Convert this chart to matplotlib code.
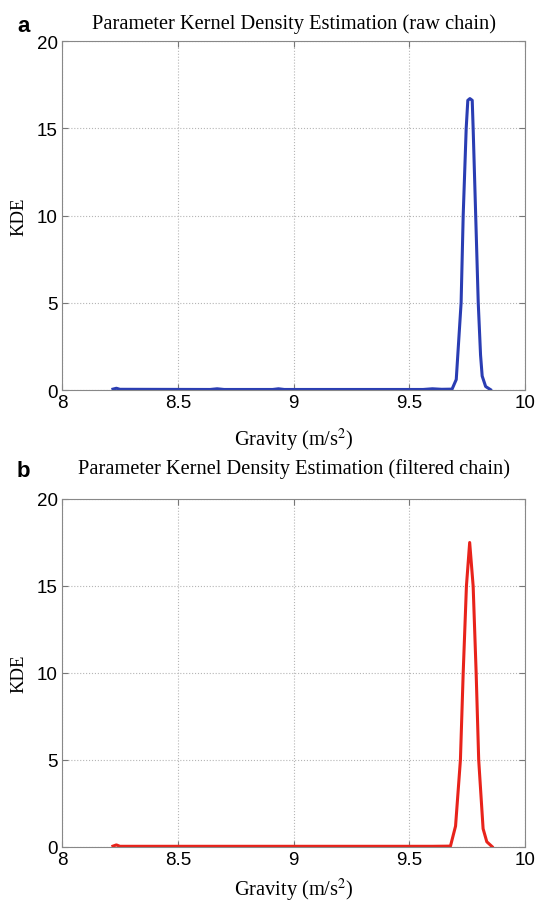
import numpy as np
import matplotlib
matplotlib.use("Agg")
import matplotlib.pyplot as plt

plt.rcParams["mathtext.fontset"] = "stix"

# KDE of the gravity estimate
raw_x = [8.22, 8.235, 8.25, 8.64, 8.67, 8.70, 8.91, 8.935, 8.96, 9.56, 9.60, 9.64,
         9.685, 9.703, 9.724, 9.733, 9.746, 9.753, 9.762, 9.772, 9.776, 9.787,
         9.798, 9.808, 9.815, 9.83, 9.851]
raw_y = [0.05, 0.10, 0.04, 0.03, 0.07, 0.03, 0.03, 0.07, 0.03, 0.03, 0.07, 0.04,
         0.05, 0.6, 5.0, 10.0, 15.0, 16.6, 16.7, 16.6, 15.0, 10.0,
         5.0, 2.0, 0.8, 0.2, 0.02]

filt_x = [8.22, 8.235, 8.25, 9.60, 9.678, 9.70, 9.721, 9.733, 9.747, 9.761,
          9.776, 9.789, 9.800, 9.819, 9.835, 9.858]
filt_y = [0.05, 0.12, 0.04, 0.04, 0.05, 1.2, 5.0, 10.0, 15.0, 17.5,
          15.0, 10.0, 5.0, 1.05, 0.3, 0.02]

letters = ["a", "b"]
titles = ["Parameter Kernel Density Estimation (raw chain)",
          "Parameter Kernel Density Estimation (filtered chain)"]
series = [(raw_x, raw_y), (filt_x, filt_y)]
colors = ["#2a3db3", "#e8231b"]

xticks = [8, 8.5, 9, 9.5, 10]
xticklabels = ["8", "8.5", "9", "9.5", "10"]
yticks = [0, 5, 10, 15, 20]

W, H = 535.0, 903.0
fig = plt.figure(figsize=(W / 100, H / 100), dpi=100)

# pixel layout: axes box (left, top, right, bottom), title centre y, xlabel centre y
boxes = [(62, 42, 525, 391), (62, 500, 525, 848)]
title_y = [24, 469]
xlabel_y = [440, 890]

for i in range(2):
    l, t, r, b = boxes[i]
    ax = fig.add_axes([l / W, 1 - b / H, (r - l) / W, (b - t) / H])
    xs, ys = series[i]
    ax.plot(xs, ys, color=colors[i], lw=2.2, solid_joinstyle="round")
    ax.set_xlim(8, 10)
    ax.set_ylim(0, 20)
    ax.set_xticks(xticks)
    ax.set_xticklabels(xticklabels)
    ax.set_yticks(yticks)
    ax.grid(True, color="#b5b5b5", ls=":", lw=0.8)
    ax.tick_params(direction="in", top=True, right=True, length=4,
                   color="#777777", labelsize=13.5, pad=3)
    for lab in ax.get_xticklabels() + ax.get_yticklabels():
        lab.set_family("Liberation Sans")
    for s in ax.spines.values():
        s.set_color("#888888")
        s.set_linewidth(0.8)

    fig.text((l + r) / 2 / W, 1 - title_y[i] / H, titles[i], family="Liberation Serif",
             fontsize=14.7, ha="center", va="center")
    fig.text(17 / W, 1 - (title_y[i] + 3) / H, letters[i], family="Liberation Sans",
             fontweight="bold", fontsize=16, ha="left", va="center")

    ax.set_xlabel("Gravity (m/s$^2$)", family="Liberation Serif", fontsize=14.7)
    ax.xaxis.label.set_va("center")
    ax.xaxis.set_label_coords(0.5, -(xlabel_y[i] - b) / (b - t))
    ax.set_ylabel("KDE", family="Liberation Serif", fontsize=13.5)
    ax.yaxis.label.set_va("center")
    ax.yaxis.set_label_coords(-(l - 18.5) / (r - l), 0.5)

fig.savefig("out.png", dpi=100)
